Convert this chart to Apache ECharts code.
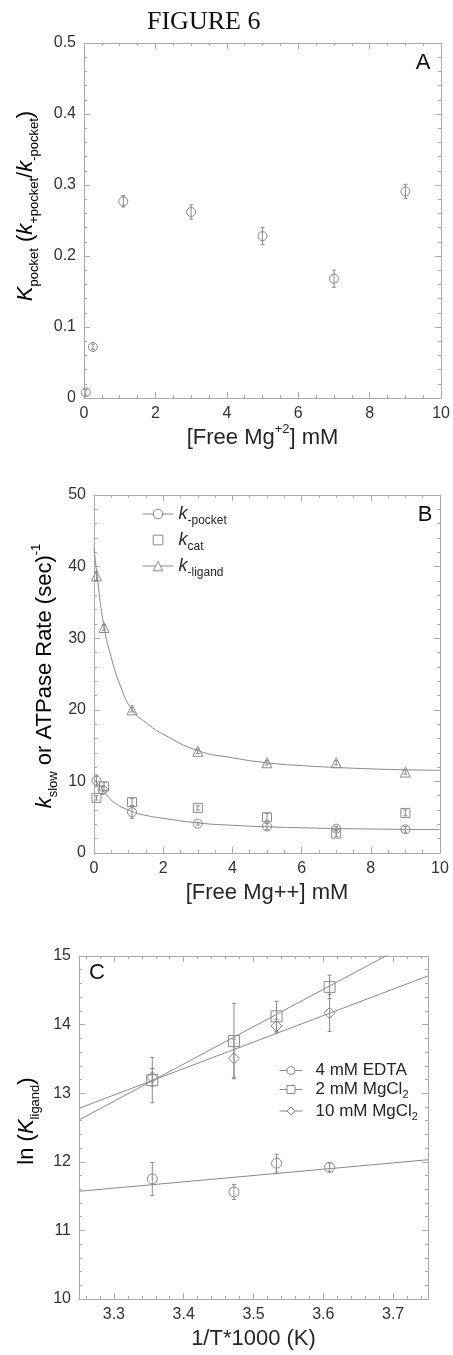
<!DOCTYPE html>
<html>
<head>
<meta charset="utf-8">
<title>Figure 6</title>
<style>
  html, body { margin: 0; padding: 0; background: #fff; }
  #figure6 { width: 453px; height: 1355px; }
</style>
<script src="https://cdn.jsdelivr.net/npm/echarts@6/dist/echarts.min.js"></script>
</head>
<body>
<div id="figure6"></div>
<script>
// ---- panel A : Kpocket vs free Mg ----
var mgA = [0.05, 0.25, 1.1, 3, 5, 7, 9];
var kPocketA = [0.008, 0.072, 0.277, 0.262, 0.228, 0.168, 0.291];
var kPocketErrA = [0.004, 0.004, 0.008, 0.01, 0.012, 0.012, 0.01];

// ---- panel B : rates vs free Mg ----
var mgB = [0.07, 0.29, 1.1, 3, 5, 7, 9];
var mgPocketB = [0.07, 0.25, 1.1, 3, 5, 7, 9];
var kMinusPocket = [10.1, 8.8, 5.7, 4.1, 3.7, 3.4, 3.3];
var kMinusPocketErr = [0.8, 0.5, 0.9, 0.2, 0.4, 0.3, 0.4];
var kCat = [7.7, 9.3, 7.1, 6.3, 5.0, 2.7, 5.6];
var kCatErr = [0.3, 0.6, 0.5, 0.3, 0.5, 0.4, 0.4];
var kMinusLigand = [38.7, 31.5, 20.0, 14.2, 12.6, 12.6, 11.3];
var kMinusLigandErr = [0.6, 0.4, 0.3, 0.3, 0.3, 0.3, 0.3];
// fitted curves
var fitMgB = [0, 0.09, 0.29, 0.5, 0.75, 1.1, 1.5, 2, 3, 4, 5, 6, 7, 8, 9, 10];
var fitLigand = [42.7, 38.7, 31.6, 27.3, 23.5, 20.0, 18.2, 16.6, 14.3, 13.3, 12.6, 12.2, 11.95, 11.75, 11.62, 11.55];
var fitMgPocket = [0, 0.07, 0.37, 0.6, 1.1, 1.5, 2, 3, 4, 5, 6, 7, 8, 9, 10];
var fitPocket = [10.3, 9.9, 8.1, 7.0, 5.8, 5.25, 4.85, 4.2, 3.87, 3.66, 3.52, 3.42, 3.35, 3.3, 3.27];

// ---- panel C : van't Hoff ----
var invT = [3.355, 3.472, 3.533, 3.609];
var lnEdta = [11.75, 11.56, 11.98, 11.92];
var lnEdtaErr = [0.24, 0.11, 0.13, 0.06];
var lnMg2 = [13.19, 13.76, 14.12, 14.55];
var lnMg2Err = [0.33, 0.55, 0.22, 0.17];
var lnMg10 = [13.23, 13.51, 13.98, 14.17];
var lnMg10Err = [0.13, 0.28, 0.1, 0.27];
var fitInvT = [3.25, 3.75];
var fitEdta = [11.57, 12.03];
var fitMg2 = [12.61, 15.33];
var fitMg10 = [12.78, 14.71];

var frameColor = "#ababab";
var markColor = "#8a8a8a";
var textColor = "#262626";
var sans = "Liberation Sans";

function zip(xs, ys, es) {
  return xs.map(function (x, i) {
    return es ? [x, ys[i], es[i]] : [x, ys[i]];
  });
}

function errorBar(params, api) {
  var x = api.value(0);
  var y = api.value(1);
  var e = api.value(2);
  var hi = api.coord([x, y + e]);
  var lo = api.coord([x, y - e]);
  var w = 2;
  var style = { stroke: markColor, lineWidth: 1, fill: null };
  return {
    type: "group",
    children: [
      { type: "line", shape: { x1: hi[0], y1: hi[1], x2: lo[0], y2: lo[1] }, style: style },
      { type: "line", shape: { x1: hi[0] - w, y1: hi[1], x2: hi[0] + w, y2: hi[1] }, style: style },
      { type: "line", shape: { x1: lo[0] - w, y1: lo[1], x2: lo[0] + w, y2: lo[1] }, style: style },
    ],
  };
}

function axis(gridIndex, position, min, max, interval, minorSplit, showLabel, extra) {
  var a = {
    type: "value",
    gridIndex: gridIndex,
    position: position,
    min: min,
    max: max,
    axisLine: { show: true, onZero: false, lineStyle: { color: frameColor, width: 1 } },
    axisTick: { show: true, inside: true, length: 6, lineStyle: { color: frameColor } },
    minorTick: { show: true, splitNumber: minorSplit, length: 3, lineStyle: { color: frameColor } },
    axisLabel: {
      show: showLabel,
      margin: 8,
      color: "#333",
      fontSize: 16,
      fontFamily: sans,
    },
    splitLine: { show: false },
  };
  if (interval) a.interval = interval;
  if (extra) {
    for (var k in extra) a[k] = extra[k];
  }
  return a;
}

var nameRich = {
  n: { fontSize: 22, fontFamily: sans, color: textColor, lineHeight: 30 },
  k: { fontSize: 22, fontFamily: sans, fontStyle: "italic", color: textColor, lineHeight: 30 },
  sub: { fontSize: 13, fontFamily: sans, color: textColor, verticalAlign: "bottom" },
  sup: { fontSize: 13, fontFamily: sans, color: textColor, verticalAlign: "top" },
};

function xName(text, gap) {
  return {
    name: text,
    nameLocation: "middle",
    nameGap: gap,
    nameTextStyle: { fontSize: 22, fontFamily: sans, color: textColor, lineHeight: 30, rich: nameRich },
  };
}

function scatter(name, xi, yi, data, symbol, size) {
  return {
    name: name,
    type: "scatter",
    xAxisIndex: xi,
    yAxisIndex: yi,
    data: data,
    symbol: symbol,
    symbolSize: size,
    itemStyle: { color: "rgba(0,0,0,0)", borderColor: markColor, borderWidth: 1, opacity: 1 },
    z: 3,
  };
}

function bars(xi, yi, data) {
  return {
    type: "custom",
    xAxisIndex: xi,
    yAxisIndex: yi,
    renderItem: errorBar,
    encode: { x: 0, y: 1 },
    data: data,
    z: 2,
  };
}

function fit(name, xi, yi, data, symbol, smooth) {
  return {
    name: name,
    type: "line",
    xAxisIndex: xi,
    yAxisIndex: yi,
    data: data,
    smooth: smooth,
    symbol: symbol,
    showSymbol: false,
    color: markColor,
    lineStyle: { color: markColor, width: 1 },
    itemStyle: { color: "rgba(0,0,0,0)", borderColor: markColor, borderWidth: 1 },
    z: 2,
  };
}

var kcatSeries = fit("kcat", 2, 2, zip(mgB, kCat), "rect", false);
kcatSeries.showSymbol = true;
kcatSeries.symbolSize = 9;
kcatSeries.lineStyle = { color: "rgba(0,0,0,0)", width: 0 };

var legendB = {
  "k-pocket": "{k|k}{s|-pocket}",
  kcat: "{k|k}{s|cat}",
  "k-ligand": "{k|k}{s|-ligand}",
};

var option = {
  animation: false,
  backgroundColor: "#fff",
  title: {
    text: "FIGURE 6",
    left: 147,
    top: 9,
    padding: 0,
    textStyle: { fontFamily: "Liberation Serif", fontSize: 26, fontWeight: "normal", color: "#111" },
  },
  grid: [
    { left: 84, right: 11, top: 43, height: 355 },
    { left: 94, right: 13, top: 495, height: 358 },
    { left: 79, right: 25, top: 956, height: 348 },
  ],
  xAxis: [
    axis(0, "bottom", 0, 10, 2, 4, true, xName("{n|[Free Mg}{sup|+2}{n|] mM}", 23)),
    axis(0, "top", 0, 10, 2, 4, false),
    axis(1, "bottom", 0, 10, 2, 4, true, xName("[Free Mg++] mM", 23)),
    axis(1, "top", 0, 10, 2, 4, false),
    axis(2, "bottom", 3.25, 3.75, null, 5, true, xName("1/T*1000 (K)", 25)),
    axis(2, "top", 3.25, 3.75, null, 5, false),
  ],
  yAxis: [
    axis(0, "left", 0, 0.5, 0.1, 5, true),
    axis(0, "right", 0, 0.5, 0.1, 5, false),
    axis(1, "left", 0, 50, 10, 5, true),
    axis(1, "right", 0, 50, 10, 5, false),
    axis(2, "left", 10, 15, 1, 5, true),
    axis(2, "right", 10, 15, 1, 5, false),
  ],
  legend: [
    {
      data: ["k-pocket", "kcat", "k-ligand"],
      orient: "vertical",
      left: 142,
      top: 505,
      padding: 0,
      itemWidth: 31,
      itemHeight: 12,
      itemGap: 4,
      selectedMode: false,
      itemStyle: { color: "#fff", borderWidth: 1 },
      lineStyle: { width: 1 },
      formatter: function (name) {
        return legendB[name];
      },
      textStyle: {
        rich: {
          k: { fontSize: 18, fontFamily: sans, fontStyle: "italic", color: textColor, lineHeight: 26 },
          s: { fontSize: 12, fontFamily: sans, color: textColor, verticalAlign: "bottom" },
        },
      },
    },
    {
      data: ["4 mM EDTA", "2 mM MgCl2", "10 mM MgCl2"],
      orient: "vertical",
      left: 279,
      top: 1062,
      padding: 0,
      itemWidth: 23,
      itemHeight: 10,
      itemGap: 2,
      selectedMode: false,
      itemStyle: { color: "#fff", borderWidth: 1 },
      lineStyle: { width: 1 },
      formatter: function (name) {
        return name.indexOf("MgCl2") >= 0
          ? "{t|" + name.replace("MgCl2", "MgCl") + "}{s|2}"
          : "{t|" + name + "}";
      },
      textStyle: {
        rich: {
          t: { fontSize: 17, fontFamily: sans, color: textColor, lineHeight: 22, padding: [0, 0, 0, 8] },
          s: { fontSize: 11, fontFamily: sans, color: textColor, verticalAlign: "bottom" },
        },
      },
    },
  ],
  graphic: [
    { type: "text", x: 423, y: 63, style: { text: "A", fontSize: 22, fontFamily: sans, fill: "#111", align: "center", verticalAlign: "middle" } },
    { type: "text", x: 425, y: 515, style: { text: "B", fontSize: 22, fontFamily: sans, fill: "#111", align: "center", verticalAlign: "middle" } },
    { type: "text", x: 97, y: 973, style: { text: "C", fontSize: 22, fontFamily: sans, fill: "#111", align: "center", verticalAlign: "middle" } },
    {
      type: "text", x: 26, y: 206, rotation: Math.PI / 2,
      style: {
        text: "{k|K}{sub|pocket}{n| (}{k|k}{sub|+pocket}{n|/}{k|k}{sub|-pocket}{n|)}",
        rich: nameRich, align: "center", verticalAlign: "middle",
      },
    },
    {
      type: "text", x: 45, y: 676, rotation: Math.PI / 2,
      style: {
        text: "{k|k}{sub|slow}{n| or ATPase Rate (sec)}{sup|-1}",
        rich: nameRich, align: "center", verticalAlign: "middle",
      },
    },
    {
      type: "text", x: 27, y: 1121, rotation: Math.PI / 2,
      style: {
        text: "{n|ln (}{k|K}{sub|ligand}{n|)}",
        rich: nameRich, align: "center", verticalAlign: "middle",
      },
    },
  ],
  series: [
    // A
    bars(0, 0, zip(mgA, kPocketA, kPocketErrA)),
    scatter("Kpocket", 0, 0, zip(mgA, kPocketA), "circle", 9),
    // B
    fit("k-pocket", 2, 2, zip(fitMgPocket, fitPocket), "circle", true),
    fit("k-ligand", 2, 2, zip(fitMgB, fitLigand), "triangle", true),
    bars(2, 2, zip(mgPocketB, kMinusPocket, kMinusPocketErr)),
    bars(2, 2, zip(mgB, kCat, kCatErr)),
    bars(2, 2, zip(mgB, kMinusLigand, kMinusLigandErr)),
    scatter("k-pocket pts", 2, 2, zip(mgPocketB, kMinusPocket), "circle", 9),
    kcatSeries,
    scatter("k-ligand pts", 2, 2, zip(mgB, kMinusLigand), "triangle", 10),
    // C
    fit("4 mM EDTA", 4, 4, zip(fitInvT, fitEdta), "circle", false),
    fit("2 mM MgCl2", 4, 4, zip(fitInvT, fitMg2), "rect", false),
    fit("10 mM MgCl2", 4, 4, zip(fitInvT, fitMg10), "diamond", false),
    bars(4, 4, zip(invT, lnEdta, lnEdtaErr)),
    bars(4, 4, zip(invT, lnMg2, lnMg2Err)),
    bars(4, 4, zip(invT, lnMg10, lnMg10Err)),
    scatter("EDTA pts", 4, 4, zip(invT, lnEdta), "circle", 10),
    scatter("Mg2 pts", 4, 4, zip(invT, lnMg2), "rect", 11),
    scatter("Mg10 pts", 4, 4, zip(invT, lnMg10), "diamond", 11),
  ],
};

option.xAxis[4].axisLabel.showMinLabel = false;
option.xAxis[4].axisLabel.showMaxLabel = false;
option.xAxis[4].splitNumber = 5;
option.xAxis[5].splitNumber = 5;

var chart = echarts.init(document.getElementById("figure6"));
chart.setOption(option);
</script>
</body>
</html>
